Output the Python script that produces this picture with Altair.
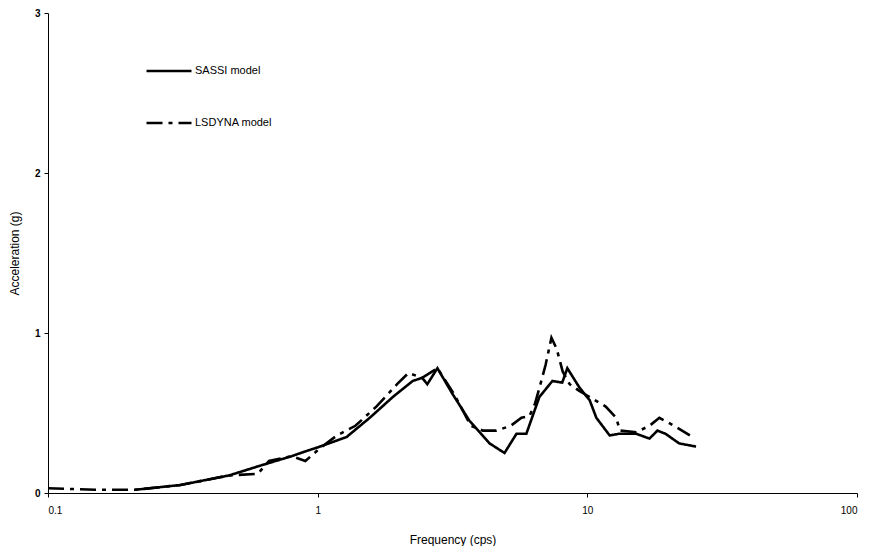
import altair as alt
import pandas as pd

sassi_f = [0.21, 0.31, 0.47, 0.61, 0.80, 0.90, 1.02, 1.28, 1.56, 1.90, 2.25, 2.44, 2.55, 2.78,
           3.16, 3.66, 4.34, 4.93, 5.46, 5.94, 6.64, 7.42, 8.07, 8.43, 9.34, 10.2, 10.8, 12.1,
           13.1, 15.2, 17.0, 18.2, 19.5, 21.9, 25.3]
sassi_v = [0.02, 0.05, 0.11, 0.17, 0.23, 0.26, 0.29, 0.35, 0.47, 0.60, 0.70, 0.72, 0.68, 0.78,
           0.62, 0.45, 0.31, 0.25, 0.37, 0.37, 0.60, 0.70, 0.69, 0.78, 0.66, 0.58, 0.47, 0.36,
           0.37, 0.37, 0.34, 0.39, 0.37, 0.31, 0.29]

lsdyna_f = [0.1, 0.15, 0.21, 0.31, 0.47, 0.60, 0.66, 0.80, 0.90, 1.02, 1.18, 1.38, 1.65, 1.97,
            2.17, 2.44, 2.78, 3.2, 3.7, 4.1, 4.6, 5.2, 5.7, 6.1, 6.4, 6.7, 7.0, 7.36, 7.7, 8.1,
            8.6, 9.3, 10.2, 11.7, 12.8, 13.2, 15.2, 17.0, 18.5, 21.0, 24.0]
lsdyna_v = [0.03, 0.02, 0.02, 0.05, 0.11, 0.12, 0.20, 0.23, 0.20, 0.28, 0.36, 0.42, 0.54, 0.68,
            0.75, 0.72, 0.78, 0.62, 0.42, 0.39, 0.39, 0.42, 0.47, 0.48, 0.56, 0.68, 0.80, 0.97,
            0.90, 0.76, 0.68, 0.64, 0.60, 0.54, 0.47, 0.39, 0.38, 0.42, 0.47, 0.42, 0.36]

series_names = ["SASSI model", "LSDYNA model"]
x_ticks = [0.1, 1, 10, 100]
y_ticks = [0, 1, 2, 3]

df = pd.concat([
    pd.DataFrame({"f": sassi_f, "a": sassi_v, "model": series_names[0], "order": range(len(sassi_f))}),
    pd.DataFrame({"f": lsdyna_f, "a": lsdyna_v, "model": series_names[1], "order": range(len(lsdyna_f))}),
])

font = "Liberation Sans"

chart = alt.Chart(df).mark_line(strokeWidth=2.6, color="black").encode(
    x=alt.X("f:Q", scale=alt.Scale(type="log", domain=[0.1, 100], nice=False),
            axis=alt.Axis(values=x_ticks, title="Frequency (cps)", grid=False,
                          labelExpr="datum.value == 0.1 ? '0.1' : format(datum.value, 'd')",
                          domainColor="black", tickColor="black", tickSize=4,
                          labelFont=font, labelFontSize=10, labelColor="black", labelPadding=8,
                          titleFont=font, titleFontSize=12, titleFontWeight="normal",
                          titleColor="black", titlePadding=19)),
    y=alt.Y("a:Q", scale=alt.Scale(domain=[0, 3], nice=False),
            axis=alt.Axis(values=y_ticks, title="Acceleration (g)", grid=False,
                          domainColor="black", tickColor="black", tickSize=4,
                          labelFont=font, labelFontSize=10, labelColor="black", labelPadding=4,
                          labelFontWeight="bold",
                          titleFont=font, titleFontSize=12, titleFontWeight="normal",
                          titleColor="black", titlePadding=13)),
    strokeDash=alt.StrokeDash("model:N", sort=series_names,
                              scale=alt.Scale(domain=series_names, range=[[1, 0], [16, 6, 4, 6]]),
                              legend=alt.Legend(title=None, orient="none", legendX=97, legendY=34,
                                                symbolType="stroke", symbolSize=2025,
                                                symbolStrokeWidth=2.6, symbolStrokeColor="black",
                                                labelFont=font, labelFontSize=11, labelColor="black",
                                                labelOffset=2, rowPadding=22)),
    order="order:Q",
).properties(
    width=809, height=480,
    padding={"left": 40, "top": 5, "right": 6, "bottom": 53},
    autosize=alt.AutoSizeParams(type="none"),
).configure_view(stroke=None)

chart.save("out.html", embed_options={"renderer": "svg", "actions": False})
